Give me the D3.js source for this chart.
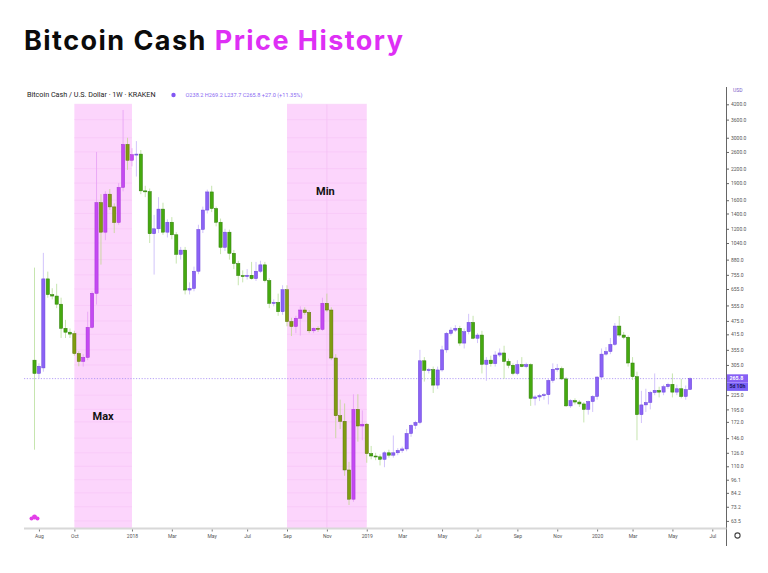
<!DOCTYPE html>
<html>
<head>
<meta charset="utf-8">
<script src="https://cdn.jsdelivr.net/npm/d3@7"></script>
<style>
  html, body { margin: 0; padding: 0; background: #fff; }
  svg { display: block; }
</style>
</head>
<body>
<div id="chart"></div>
<script>
// weekly BCH/USD candles, Kraken
const startWeek = new Date(2017, 6, 31);
const opens = [320,280,296,725,619,610,562,441,424,418,342,316,329,445,627,1562,1160,1700,1496,1279,
  1820,2805,2392,2530,2545,1758,1745,1142,1200,1463,1160,1282,1130,928,968,648,658,783,1192,1449,
  1739,1472,1282,996,1160,938,846,750,742,752,727,783,835,713,567,572,521,650,472,449,
  488,530,517,430,441,436,567,530,327,183,173,106,79,195,165,168,125,122,121,118,
  126,123,126,129,131,153,166,171,318,289,291,249,290,355,419,433,441,380,426,468,
  399,412,307,320,309,337,344,316,304,280,306,300,306,218,221,224,226,261,292,294,
  265,202,213,210,206,195,211,222,270,340,349,375,451,412,403,311,271,185,204,209,
  231,236,232,245,251,232,240,222,238.2];
const highs = [812,310,942,780,660,690,600,480,440,430,350,340,521,640,2600,1700,1750,1790,1550,1900,
  3966,3000,2700,2900,2650,1850,1800,1380,1650,1560,1320,1350,1160,1000,1000,700,820,1250,1500,1780,
  1850,1500,1330,1200,1190,970,870,790,800,860,860,870,860,730,590,625,680,680,490,500,
  550,545,530,445,450,600,625,545,340,215,207,115,227,227,193,170,135,126,124,128,
  130,150,132,134,160,168,174,355,330,296,300,300,370,425,445,455,452,440,510,500,
  420,430,330,335,350,360,370,325,310,320,330,312,310,225,228,230,265,310,308,300,
  270,216,218,214,210,213,225,272,360,365,400,465,499,425,410,330,285,235,240,235,
  280,245,250,255,280,250,265,248,269.2];
const lows = [130,265,285,600,590,540,400,400,400,335,301,300,320,440,560,837,1070,1450,1150,1250,
  1750,2170,2250,2030,1700,1650,1040,757,1150,1130,1100,1080,846,880,620,620,640,760,1150,1400,
  1420,1230,930,960,880,800,680,700,720,720,710,770,700,540,550,500,505,450,408,420,
  410,505,420,420,425,430,520,320,146,160,100,74.5,77,141,143,114,118,117,111,109,
  120,120,123,126,128,148,160,168,258,280,230,240,285,345,410,425,370,360,415,395,
  380,280,260,300,300,330,265,295,275,275,298,295,202,203,212,215,205,255,285,262,
  200,198,205,200,171,185,190,215,262,335,340,370,405,395,300,262,143,170,190,195,
  225,220,225,240,220,225,218,215,237.7];
const closes = [280,301,725,619,610,562,441,424,416,342,316,329,445,627,1562,1160,1700,1496,1279,1820,
  2805,2392,2530,2545,1758,1745,1142,1200,1463,1160,1282,1130,928,968,648,658,783,1192,1449,1739,
  1472,1282,996,1160,938,846,750,742,752,727,783,835,713,567,572,521,650,472,449,488,
  530,517,430,441,436,567,530,327,183,173,106,79,195,165,168,125,122,121,118,126,
  123,126,129,131,153,166,171,318,289,291,249,290,355,419,433,441,380,426,468,399,
  412,307,320,309,337,344,316,304,280,306,300,306,218,221,224,226,261,292,294,265,
  202,213,210,206,195,211,222,270,340,349,375,451,412,403,311,271,185,204,209,231,
  236,232,245,251,232,240,222,238,265.8];

const priceTicks = [4200,3600,3000,2600,2200,1900,1600,1400,1200,1040,880,755,655,555,475,415,355,305,225,195,172,146,126,110,96.1,84.2,73.2,63.5];
const monthTicks = [[2017,7],[2017,9],[2018,0],[2018,2],[2018,4],[2018,6],[2018,8],[2018,10],[2019,0],[2019,2],[2019,4],[2019,6],[2019,8],[2019,10],[2020,0],[2020,2],[2020,4],[2020,6]];
const monthLabels = ["Aug","Oct","2018","Mar","May","Jul","Sep","Nov","2019","Mar","May","Jul","Sep","Nov","2020","Mar","May","Jul"];

// highlighted periods: [first week, last week, label]
const bands = [
  { from: new Date(2017, 9, 2), to: new Date(2018, 0, 1), label: "Max", labelPrice: 181, shift: 0 },
  { from: new Date(2018, 8, 3), to: new Date(2019, 0, 7), label: "Min", labelPrice: 1740, shift: -1.5 }
];
const lastPrice = 265.8;

const width = 768, height = 573;
const plotLeft = 24, plotRight = 726.5, plotTop = 104.5, plotBottom = 528;

const weekIndex = d => Math.round((d3.timeMonday.ceil(d) - startWeek) / 6048e5);

const x = d3.scaleLinear().domain([0, opens.length - 1]).range([34.5, 34.5 + (opens.length - 1) * 4.43]);
const y = d3.scaleLog().domain([63.5, 4200]).range([520.9, 104.3]);

const svg = d3.select("#chart").append("svg")
    .attr("width", width)
    .attr("height", height);

svg.append("rect").attr("width", width).attr("height", height).attr("fill", "#fff");

// title
const title = svg.append("text")
    .attr("x", 24).attr("y", 50)
    .attr("font-family", "Inter, 'Open Sans', sans-serif")
    .attr("font-weight", 700)
    .attr("font-size", 27);
title.append("tspan").attr("fill", "#0b0b0b").text("Bitcoin Cash ");
title.append("tspan").attr("fill", "#de2ff5").text("Price History");
const tw = title.node().getComputedTextLength();
title.attr("letter-spacing", (379 - tw) / 25);

// bands
const bandG = svg.append("g");
bands.forEach(b => {
  const x0 = x(weekIndex(b.from)), x1 = x(weekIndex(b.to));
  bandG.append("rect")
      .attr("x", x0).attr("y", plotTop)
      .attr("width", x1 - x0).attr("height", plotBottom - plotTop)
      .attr("fill", "#fcd5fc");
  bandG.selectAll(null)
    .data(priceTicks)
    .enter().append("line")
      .attr("x1", x0).attr("x2", x1)
      .attr("y1", d => y(d)).attr("y2", d => y(d))
      .attr("stroke", "#f6c4f6").attr("stroke-width", 0.6);
  b.x0 = x0; b.x1 = x1;
});
// divider inside the Min band (Nov 2018)
const novIdx = weekIndex(new Date(2018, 10, 1));
svg.append("line")
    .attr("x1", x(novIdx)).attr("x2", x(novIdx))
    .attr("y1", plotTop).attr("y2", plotBottom)
    .attr("stroke", "#f5c0f5").attr("stroke-width", 0.8);

// last price dotted line
svg.append("line")
    .attr("x1", plotLeft).attr("x2", plotRight)
    .attr("y1", y(lastPrice)).attr("y2", y(lastPrice))
    .attr("stroke", "#a48af5").attr("stroke-width", 0.8)
    .attr("stroke-dasharray", "1.2,1.6");

// candles
const inBand = i => bands.some(b => x(i) >= b.x0 - 1 && x(i) <= b.x1 + 1);
const candles = d3.range(opens.length).map(i => ({
  i, o: opens[i], h: highs[i], l: lows[i], c: closes[i], up: closes[i] >= opens[i], band: inBand(i)
}));
const bodyFill = d => d.band ? (d.up ? "#c449f2" : "#7f9c10") : (d.up ? "#8b62f5" : "#45a90f");
const bodyStroke = d => d.band ? (d.up ? "#a531d8" : "#5a730a") : (d.up ? "#6c47da" : "#2f7d08");
const wickColor = d => d.band ? (d.up ? "#e9a6f5" : "#c6d79a") : (d.up ? "#cdbdfa" : "#bfe2a6");

const cg = svg.append("g");
cg.selectAll("line.wick")
  .data(candles)
  .enter().append("line")
    .attr("class", "wick")
    .attr("x1", d => x(d.i)).attr("x2", d => x(d.i))
    .attr("y1", d => y(d.h)).attr("y2", d => y(d.l))
    .attr("stroke", wickColor).attr("stroke-width", 0.9);
cg.selectAll("rect.body")
  .data(candles)
  .enter().append("rect")
    .attr("class", "body")
    .attr("x", d => x(d.i) - 1.6)
    .attr("width", 3.2)
    .attr("y", d => y(Math.max(d.o, d.c)))
    .attr("height", d => Math.max(1, Math.abs(y(d.o) - y(d.c))))
    .attr("fill", bodyFill)
    .attr("stroke", bodyStroke)
    .attr("stroke-width", 0.5);

// band labels
bands.forEach(b => {
  svg.append("text")
      .attr("x", (b.x0 + b.x1) / 2 + b.shift)
      .attr("y", y(b.labelPrice))
      .attr("text-anchor", "middle")
      .attr("dominant-baseline", "middle")
      .attr("font-family", "Roboto, sans-serif")
      .attr("font-weight", 700)
      .attr("font-size", 11)
      .attr("fill", "#111")
      .text(b.label);
});

// legend
const legend = svg.append("g").attr("font-family", "Roboto, sans-serif");
legend.append("text")
    .attr("x", 27).attr("y", 95.2).attr("dominant-baseline", "middle")
    .attr("font-size", 7.2).attr("fill", "#222")
    .text("Bitcoin Cash / U.S. Dollar · 1W · KRAKEN");
legend.append("circle").attr("cx", 173.5).attr("cy", 95).attr("r", 2.2).attr("fill", "#8257f3");
legend.append("text")
    .attr("x", 185.5).attr("y", 95.2).attr("dominant-baseline", "middle")
    .attr("font-size", 5.6).attr("fill", "#8a6af2")
    .text("O238.2 H269.2 L237.7 C265.8 +27.0 (+11.35%)");

// right price axis
const yAxis = svg.append("g")
    .attr("transform", `translate(${plotRight},0)`)
    .call(d3.axisRight(y).tickValues(priceTicks).tickSize(2.5).tickPadding(2)
      .tickFormat(d3.format(".1f")));
yAxis.select(".domain").remove();
yAxis.selectAll(".tick line").attr("stroke", "#666");
yAxis.selectAll(".tick text")
    .attr("font-family", "Roboto, sans-serif").attr("font-size", 5).attr("fill", "#555");
svg.append("line")
    .attr("x1", plotRight).attr("x2", plotRight)
    .attr("y1", 87).attr("y2", 546)
    .attr("stroke", "#555").attr("stroke-width", 0.9);
svg.append("text")
    .attr("x", 733).attr("y", 92).attr("font-family", "Roboto, sans-serif")
    .attr("font-size", 5).attr("fill", "#7a5cc8").text("USD");

// last price labels
svg.append("rect").attr("x", plotRight + 0.5).attr("y", y(lastPrice) - 4.3)
    .attr("width", 21).attr("height", 8.4).attr("fill", "#8660f5");
svg.append("text").attr("x", plotRight + 3).attr("y", y(lastPrice) + 0.2)
    .attr("dominant-baseline", "middle")
    .attr("font-family", "Roboto, sans-serif").attr("font-weight", 700)
    .attr("font-size", 5.3).attr("fill", "#fff").text(d3.format(".1f")(lastPrice));
svg.append("rect").attr("x", plotRight + 0.5).attr("y", y(lastPrice) + 4.3)
    .attr("width", 21).attr("height", 8).attr("fill", "#7b62f7");
svg.append("text").attr("x", plotRight + 3).attr("y", y(lastPrice) + 8.5)
    .attr("dominant-baseline", "middle")
    .attr("font-family", "Roboto, sans-serif").attr("font-weight", 700)
    .attr("font-size", 5.1).attr("fill", "#1a1560").text("5d 10h");

// bottom time axis
svg.append("rect").attr("x", plotLeft).attr("y", plotBottom - 0.5)
    .attr("width", plotRight - plotLeft).attr("height", 2).attr("fill", "#d8d8d8");
const tickIdx = monthTicks.map(([yy, mm]) => weekIndex(new Date(yy, mm, 1)));
const xAxis = svg.append("g")
    .attr("transform", `translate(0,${plotBottom + 1.5})`)
    .call(d3.axisBottom(x).tickValues(tickIdx).tickSize(2).tickPadding(2.5)
      .tickFormat((d, k) => monthLabels[k]));
xAxis.select(".domain").remove();
xAxis.selectAll(".tick line").attr("stroke", "#777");
xAxis.selectAll(".tick text")
    .attr("font-family", "Roboto, sans-serif").attr("font-size", 5).attr("fill", "#555");

// settings icon and logo
svg.append("circle").attr("cx", 737.5).attr("cy", 535.5).attr("r", 2.6)
    .attr("fill", "none").attr("stroke", "#444").attr("stroke-width", 1.1);
const logo = svg.append("g").attr("fill", "#e23fe8");
[[31.5, 518.5, 2], [34.5, 517, 2.5], [37.5, 518.5, 2]].forEach(([cx, cy, r]) =>
  logo.append("circle").attr("cx", cx).attr("cy", cy).attr("r", r));
</script>
</body>
</html>
